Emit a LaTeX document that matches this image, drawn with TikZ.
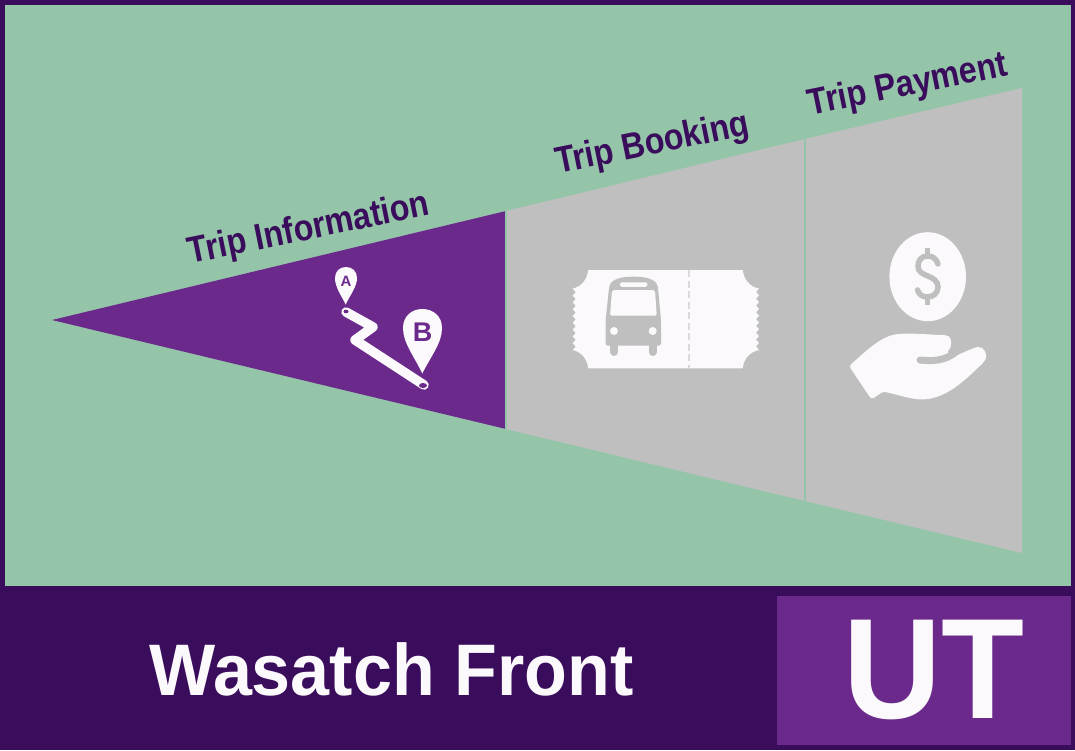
\documentclass[tikz,border=0pt]{standalone}
\usepackage{fontspec}
\setmainfont{Liberation Sans}
\newfontfamily\steplabelfont[FakeStretch=0.87]{Liberation Sans}
\usepackage{xcolor}
\definecolor{darkpurple}{HTML}{3A0C5C}
\definecolor{midpurple}{HTML}{6B2A8B}
\definecolor{mapgreen}{HTML}{95C5A9}
\definecolor{stepgrey}{HTML}{BFBFBF}
\definecolor{iconwhite}{HTML}{FBF9FC}

\begin{document}
\begin{tikzpicture}[
		x=1pt,
		y=-1pt,
		icon/.style={fill=iconwhite, draw=none},
		icon grey/.style={stepgrey, line width=5.5pt, line cap=round},
		step label/.style={text=darkpurple, font=\steplabelfont\fontsize{37}{37}\selectfont\bfseries, rotate=11.5},
		pin label/.style={text=midpurple, font=\bfseries}
		]

	% Frame
	\fill[darkpurple] (0, 0) rectangle (1075, 750);
	\fill[mapgreen] (5, 5) rectangle (1071, 586);
	\fill[midpurple] (777, 596) rectangle (1071, 745);
	\useasboundingbox (0, 0) rectangle (1075, 750);

	% Wedge
	\fill[midpurple] (52, 320) -- (506, 211) -- (506, 429) -- cycle;
	\fill[stepgrey] (506, 211) -- (805, 139) -- (805, 501) -- (506, 429) -- cycle;
	\fill[stepgrey] (805, 139) -- (1022, 88) -- (1022, 553) -- (805, 501) -- cycle;
	\draw[mapgreen, line width=1.2pt] (506, 211) -- (506, 429);
	\draw[mapgreen, line width=1.2pt] (805, 139) -- (805, 501);

	% Step labels
	\node[step label] (info) at (309, 230) {Trip Information};
	\node[step label] (booking) at (652.5, 145) {Trip Booking};
	\node[step label] (payment) at (908, 86) {Trip Payment};

	% Route
	\draw[iconwhite, line width=9.5pt, line cap=round, line join=round] (346, 312) -- (373, 327) -- (355, 340) -- (424, 385);
	\fill[midpurple] (346, 311.5) ellipse (2.5 and 1.8);
	\fill[midpurple] (423, 385.5) ellipse (4 and 2.5);

	% Pin A
	\fill[icon] (345.7, 304.5) .. controls (341, 295) and (335, 287) .. (335, 278)
		.. controls (335, 271) and (340, 267) .. (346, 267)
		.. controls (352, 267) and (357, 271) .. (357, 278)
		.. controls (357, 287) and (350, 295) .. (345.7, 304.5) -- cycle;
	\node[pin label, font=\fontsize{15}{15}\selectfont\bfseries] (pina) at (346, 281.5) {A};

	% Pin B
	\fill[icon] (422.3, 373.5) .. controls (414, 356) and (403, 343) .. (403, 328)
		.. controls (403, 316) and (412, 309) .. (422.3, 309)
		.. controls (433, 309) and (442, 316) .. (442, 328)
		.. controls (442, 343) and (431, 356) .. (422.3, 373.5) -- cycle;
	\node[pin label, font=\fontsize{27}{27}\selectfont\bfseries] (pinb) at (422.5, 332) {B};

	% Ticket
	\fill[icon] (588.3, 270) -- (742.7, 270)
		.. controls (744, 280) and (750, 287) .. (759, 288.5)
		\foreach \y in {288.5, 295.3,...,345}{ -- (759, \y) -- (756, \y+3.4) }
		-- (759, 350)
		.. controls (750, 352) and (744, 358) .. (742.7, 368.3)
		-- (588.3, 368.3)
		.. controls (587, 358) and (581, 352) .. (572.7, 350)
		\foreach \y in {350, 343.2,...,293}{ -- (572.7, \y) -- (575.7, \y-3.4) }
		-- (572.7, 288.5)
		.. controls (581, 287) and (587, 280) .. (588.3, 270) -- cycle;
	\draw[stepgrey!55!iconwhite, line width=1.2pt, dash pattern=on 7pt off 3.5pt] (689, 270) -- (689, 368);

	% Bus
	\fill[stepgrey, rounded corners=2pt] (605.7, 345.5) -- (605.7, 320) -- (609, 288)
		.. controls (611, 279) and (622, 276.7) .. (633.5, 276.7)
		.. controls (645, 276.7) and (656, 279) .. (658, 288)
		-- (661, 320) -- (661, 345.5) -- cycle;
	\draw[stepgrey, line width=8pt, line cap=round] (614, 345) -- (614, 352);
	\draw[stepgrey, line width=8pt, line cap=round] (652.5, 345) -- (652.5, 352);
	\fill[icon, rounded corners=2pt] (612, 290) -- (655, 290) -- (656.7, 315.7) -- (610, 315.7) -- cycle;
	\fill[icon, rounded corners=1.5pt] (620, 282.3) rectangle (647.3, 286.8);
	\fill[icon] (614, 331) circle (4);
	\fill[icon] (652.7, 331) circle (4);

	% Coin
	\fill[icon] (927.7, 276.7) ellipse (38.3 and 44.5);
	\draw[icon grey] (938, 264) .. controls (936, 258) and (932, 256) .. (927.7, 256)
		.. controls (921, 256) and (918, 261) .. (918, 266)
		.. controls (918, 272) and (923, 274) .. (927.7, 276)
		.. controls (933, 278) and (938, 281) .. (938, 287)
		.. controls (938, 293) and (933, 297) .. (927.7, 297)
		.. controls (923, 297) and (919, 295) .. (917.5, 290);
	\draw[icon grey, line cap=butt] (927.7, 248) -- (927.7, 256);
	\draw[icon grey, line cap=butt] (927.7, 297) -- (927.7, 305);

	% Hand
	\fill[icon, rounded corners=3pt] (849, 366) .. controls (865, 352) and (880, 337) .. (898, 334)
		.. controls (915, 333) and (932, 335) .. (946, 335)
		.. controls (952, 338) and (952, 348) .. (946, 352)
		-- (955, 356) -- (975, 347.5)
		.. controls (984, 346) and (988, 355) .. (984, 362)
		.. controls (970, 375) and (950, 397) .. (923, 399.5)
		.. controls (910, 399) and (895, 394) .. (883, 391.5)
		-- (871.5, 399.5) -- cycle;
	\draw[icon grey, line width=7pt] (920, 360) .. controls (930, 361) and (945, 362) .. (957, 351);

	% Footer
	\node[text=iconwhite, font=\fontsize{73}{73}\selectfont\bfseries, xscale=0.96] (region) at (391.5, 669) {Wasatch Front};
	\node[text=iconwhite, font=\fontsize{143}{143}\selectfont\bfseries, xscale=0.95] (state) at (934, 670) {UT};

\end{tikzpicture}
\end{document}
